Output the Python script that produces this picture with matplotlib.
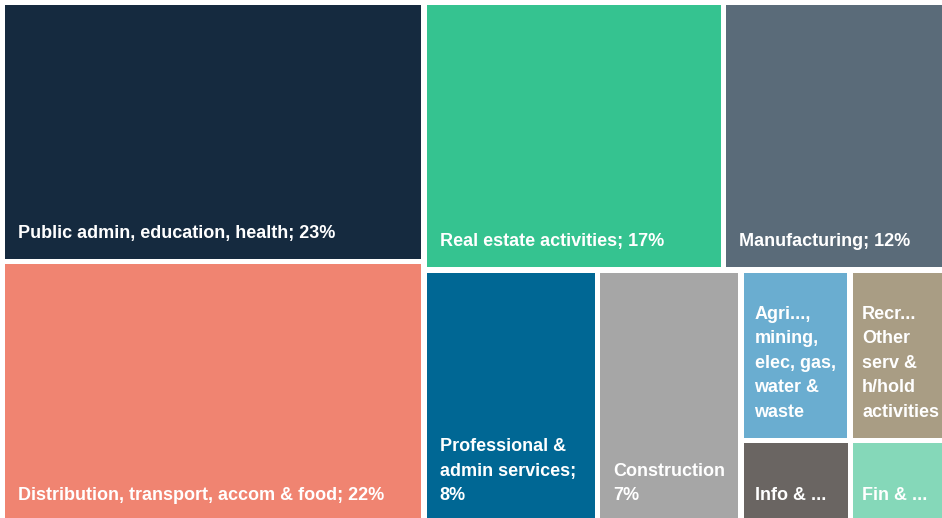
import matplotlib
matplotlib.use('Agg')
import matplotlib.pyplot as plt
from matplotlib.patches import Rectangle

# sector labels as printed on the tiles
labels = ['Public admin, education, health; 23%',
          'Distribution, transport, accom & food; 22%',
          'Real estate activities; 17%',
          'Manufacturing; 12%',
          'Professional &\nadmin services;\n8%',
          'Construction\n7%',
          'Agri...,\nmining,\nelec, gas,\nwater &\nwaste',
          'Recr...\nOther\nserv &\nh/hold\nactivities',
          'Info & ...',
          'Fin & ...']
# tile sizes (share of total)
sizes = [22.21, 22.51, 16.31, 12.06, 8.96, 7.40, 3.78, 3.29, 1.86, 1.61]
colors = ['#152a3f', '#f08471', '#35c390', '#5a6b79', '#006794',
          '#a6a6a6', '#6aadd0', '#a99d84', '#6a6562', '#85d8b9']


def worst(row, side):
    s = sum(row)
    return max(max(side * side * r / (s * s), s * s / (side * side * r)) for r in row)


def squarify(areas, x, y, w, h):
    rects = []
    areas = list(areas)
    while areas:
        side = h if w > h else w
        row = [areas.pop(0)]
        while areas and worst(row + [areas[0]], side) <= worst(row, side):
            row.append(areas.pop(0))
        s = sum(row)
        if w > h:
            cw = s / h
            yy = y
            for a in row:
                rects.append((x, yy, cw, a / cw))
                yy += a / cw
            x += cw
            w -= cw
        else:
            rh = s / w
            xx = x
            for a in row:
                rects.append((xx, y, a / rh, rh))
                xx += a / rh
            y += rh
            h -= rh
    return rects


W, H = 942.5, 521.5
total = sum(sizes)
areas = [v / total * W * H for v in sizes]
rects = squarify(areas, 2.5, 2.5, W, H)

fig = plt.figure(figsize=(9.42, 5.18), dpi=100)
ax = fig.add_axes([0, 0, 1, 1])
ax.set_xlim(0, 942)
ax.set_ylim(518, 0)
ax.axis('off')

gap = 2.75
for (x, y, w, h), lab, c in zip(rects, labels, colors):
    ax.add_patch(Rectangle((x + gap, y + gap), w - 2 * gap, h - 2 * gap,
                           facecolor=c, edgecolor='none'))
    pad = min(13, 0.105 * (w - 2 * gap))
    ax.text(x + gap + pad, y + h - gap - 17, lab, color='white', fontsize=13,
            fontweight='bold', family='Liberation Sans', va='bottom', ha='left',
            linespacing=1.58)

fig.savefig('out.png', dpi=100)
